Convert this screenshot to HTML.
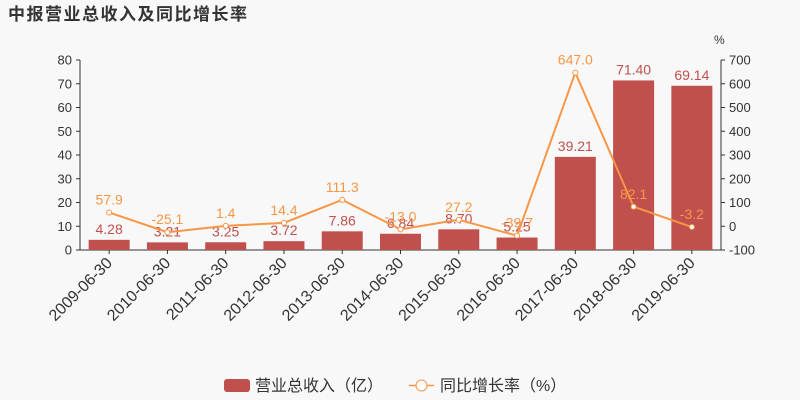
<!DOCTYPE html>
<html><head><meta charset="utf-8">
<style>
body{margin:0;background:#f8f8f8;}
svg{display:block;font-family:"Liberation Sans","Noto Sans CJK SC",sans-serif;}
</style></head>
<body>
<svg id="chart" width="800" height="400">
<rect width="800" height="400" fill="#f8f8f8"/>
<text x="8" y="20" font-size="17" font-weight="bold" fill="#333" letter-spacing="1.5">中报营业总收入及同比增长率</text>
<text x="714" y="44" font-size="12" fill="#333">%</text>
<g id="axes"></g>
<g id="bars"></g>
<g id="line"></g>
<g>
<rect x="224" y="379" width="26" height="13" rx="3" fill="#c0504d"/>
<text x="255" y="391" font-size="16" fill="#333">营业总收入（亿）</text>
<line x1="409" y1="385.5" x2="434" y2="385.5" stroke="#f79646" stroke-width="1.5"/>
<circle cx="421.5" cy="385.5" r="5.5" fill="#fff" stroke="#f79646"/>
<text x="440" y="391" font-size="16" fill="#333">同比增长率（%）</text>
</g>
</svg>
<script>
const categories=["2009-06-30","2010-06-30","2011-06-30","2012-06-30","2013-06-30","2014-06-30","2015-06-30","2016-06-30","2017-06-30","2018-06-30","2019-06-30"];
const revenue=[4.28,3.21,3.25,3.72,7.86,6.84,8.70,5.25,39.21,71.40,69.14];
const growth=[57.9,-25.1,1.4,14.4,111.3,-13.0,27.2,-39.7,647.0,82.1,-3.2];
const leftTicks=[0,10,20,30,40,50,60,70,80];
const rightTicks=[-100,0,100,200,300,400,500,600,700];
const NS="http://www.w3.org/2000/svg";
const X0=80,X1=721,Y0=250,Y1=60;
const band=(X1-X0)/categories.length;
const xc=i=>X0+band*(i+0.5);
const yl=v=>Y0-(v-0)/(80-0)*(Y0-Y1);
const yr=v=>Y0-(v+100)/(800)*(Y0-Y1);
function mk(tag,attrs,parent,txt){const e=document.createElementNS(NS,tag);for(const k in attrs)e.setAttribute(k,attrs[k]);if(txt!==undefined)e.textContent=txt;parent.appendChild(e);return e;}
const ax=document.getElementById('axes');
let e;
e=mk('line',{x1:X0,y1:Y1,x2:X0,y2:Y0,stroke:'#333'},ax);


e=mk('line',{x1:X1,y1:Y1,x2:X1,y2:Y0,stroke:'#333'},ax);


e=mk('line',{x1:X0,y1:Y0,x2:X1,y2:Y0,stroke:'#333'},ax);


leftTicks.forEach(t=>{const y=yl(t);mk('line',{x1:X0-4,y1:y,x2:X0,y2:y,stroke:'#333'},ax);
e=mk('text',{x:X0-8,y:y+4.5,'font-size':13,fill:'#333','text-anchor':'end'},ax,String(t));

});
rightTicks.forEach(t=>{const y=yr(t);mk('line',{x1:X1,y1:y,x2:X1+4,y2:y,stroke:'#333'},ax);
e=mk('text',{x:X1+8,y:y+4.5,'font-size':13,fill:'#333'},ax,String(t));

});
categories.forEach((c,i)=>{const x=xc(i);mk('line',{x1:x,y1:Y0,x2:x,y2:Y0+4,stroke:'#333'},ax);
e=mk('text',{x:x+4,y:Y0+14,'font-size':16,fill:'#333','text-anchor':'end',transform:`rotate(-45 ${x+4} ${Y0+14})`},ax,c);

});
const bg=document.getElementById('bars');
revenue.forEach((v,i)=>{const bw=41;
e=mk('rect',{x:xc(i)-bw/2,y:yl(v),width:bw,height:Y0-yl(v),fill:'#c0504d'},bg);


e=mk('text',{x:xc(i),y:yl(v)-6,'font-size':14,fill:'#c0504d','text-anchor':'middle'},bg,v.toFixed(2));

});
const lg=document.getElementById('line');
e=mk('polyline',{points:growth.map((v,i)=>xc(i)+','+yr(v)).join(' '),fill:'none',stroke:'#f79646','stroke-width':2},lg);


growth.forEach((v,i)=>{
e=mk('circle',{cx:xc(i),cy:yr(v),r:2.5,fill:'#fff',stroke:'#f79646'},lg);


e=mk('text',{x:xc(i),y:yr(v)-8,'font-size':14,fill:'#f79646','text-anchor':'middle'},lg,v.toFixed(1));

});
</script>
</body></html>
